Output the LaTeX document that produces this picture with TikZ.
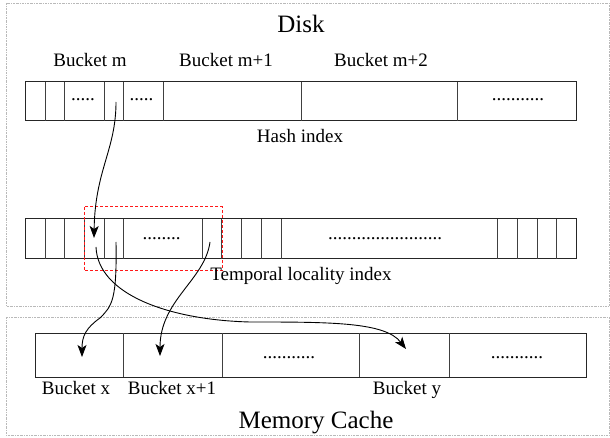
\documentclass[tikz,border=0pt]{standalone}
\usepackage{fontspec}
\setmainfont{Liberation Serif}
\usetikzlibrary{arrows.meta}
\begin{document}
\begin{tikzpicture}[x=1pt,y=-1pt,
  region/.style={draw=gray!55, line width=0.6pt, dash pattern=on 2pt off 1pt on 0.6pt off 1pt},
  rowbox/.style={draw=black!85, line width=1pt},
  divider/.style={draw=black!75, line width=0.9pt},
  selbox/.style={draw=red!90!white, line width=1pt, dash pattern=on 3pt off 2pt},
  lbl/.style={font=\fontsize{19}{22}\selectfont, inner sep=0pt, anchor=base},
  title/.style={font=\fontsize{25}{28}\selectfont, inner sep=0pt, anchor=base},
  dotfill/.style={font=\fontsize{19}{22}\selectfont, inner sep=0pt, anchor=base},
  link/.style={draw=black, line width=0.9pt, -{Stealth[length=12pt,width=9pt,inset=3pt]}}
]
\useasboundingbox (0,0) rectangle (610,438);

% regions
\draw[region] (6,3) rectangle (609,306);
\draw[region] (6,317) rectangle (609,435);

% hash index row
\draw[rowbox] (25,82) rectangle (576,121);
\foreach \x in {45,64.5,104,123.5,163,301,457}
  \draw[divider] (\x,82) -- (\x,121);

% temporal locality row
\draw[rowbox] (25,219) rectangle (576,259);
\foreach \x in {45,64.5,84,104,123.5,202,221,241,261,281,497,517,537,556}
  \draw[divider] (\x,219) -- (\x,259);

% memory row
\draw[rowbox] (35,333) rectangle (586,377);
\foreach \x in {123.5,222,359,449}
  \draw[divider] (\x,333) -- (\x,377);

% selection box
\draw[selbox] (84,207) rectangle (222,271);

% texts
\node[title] (disk) at (301,33) {Disk};
\node[lbl] (bm) at (90,67) {Bucket m};
\node[lbl] (bm1) at (226,67) {Bucket m+1};
\node[lbl] (bm2) at (381,67) {Bucket m+2};
\node[lbl] (hash) at (300,143) {Hash index};
\node[lbl] (temporal) at (301,280) {Temporal locality index};
\node[lbl] (bx) at (76,394) {Bucket x};
\node[lbl] (bx1) at (172,394) {Bucket x+1};
\node[lbl] (by) at (407,394) {Bucket y};
\node[title] (mem) at (316,428) {Memory Cache};

% dots
\node[dotfill] (hd1) at (83,101) {.....};
\node[dotfill] (hd2) at (141.5,101) {.....};
\node[dotfill] (hd3) at (518,101) {...........};
\node[dotfill] (td1) at (161.5,240) {........};
\node[dotfill] (td2) at (385,240) {........................};
\node[dotfill] (md1) at (289,358) {...........};
\node[dotfill] (md2) at (517,358) {...........};

% connector endpoints
\coordinate (hs) at (116,102);
\coordinate (te) at (94,238);
\coordinate (ts1) at (96,247);
\coordinate (ts2) at (116,242);
\coordinate (ts3) at (210,242);
\coordinate (mx) at (82,357);
\coordinate (mx1) at (160,356);
\coordinate (my) at (406,349);
\coordinate (mid2) at (250,322);
\coordinate (mid3) at (100,318);

% connectors
\draw[link] (hs) .. controls (116,150) and (95,170) .. (te);
\draw[link] (ts1) .. controls (98,295) and (170,320) .. (mid2) .. controls (330,322) and (385,322) .. (my);
\draw[link] (ts2) .. controls (117,300) and (112,306) .. (mid3) .. controls (86,328) and (82,336) .. (mx);
\draw[link] (ts3) .. controls (205,280) and (160,300) .. (mx1);
\end{tikzpicture}
\end{document}
